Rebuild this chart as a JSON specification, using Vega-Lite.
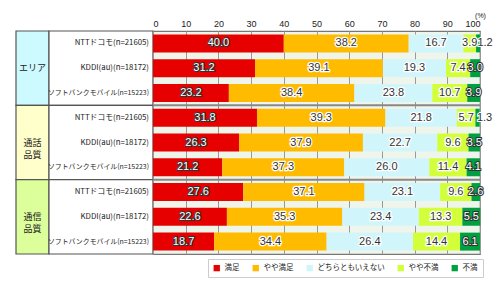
{
 "$schema": "https://vega.github.io/schema/vega-lite/v6.json",
 "padding": {"left": 15, "top": 10, "right": 0, "bottom": 0},
 "background": "white",
 "spacing": 0,
 "bounds": "flush",
 "config": {"font": "Noto Sans CJK JP", "view": {"stroke": null},
   "axisX": {"orient": "top", "values": [0, 10, 20, 30, 40, 50, 60, 70, 80, 90, 100], "labelOverlap": false, "labelFontSize": 9, "labelFont": "Liberation Sans", "labelColor": "#222", "ticks": false, "domain": false, "labelPadding": 3, "grid": true, "gridColor": "#999", "gridWidth": 1, "titleFontSize": 7, "titleFont": "Liberation Sans", "titleFontWeight": "normal", "titleColor": "#222", "titleX": 327, "titleY": -14, "titleAlign": "center", "titleBaseline": "alphabetic"}},
 "datasets": {
  "groups": [
   {"g": "g1", "label": "エリア"},
   {"g": "g2", "label": "通話\n品質"},
   {"g": "g3", "label": "通信\n品質"}
  ],
  "rows": [
   {"row": "r1", "carrier": "NTTドコモ", "label": "NTTドコモ(n=21605)"},
   {"row": "r2", "carrier": "KDDI", "label": "KDDI(au)(n=18172)"},
   {"row": "r3", "carrier": "ソフトバンクモバイル", "label": "ソフトバンクモバイル(n=15223)"},
   {"row": "r4", "carrier": "NTTドコモ", "label": "NTTドコモ(n=21605)"},
   {"row": "r5", "carrier": "KDDI", "label": "KDDI(au)(n=18172)"},
   {"row": "r6", "carrier": "ソフトバンクモバイル", "label": "ソフトバンクモバイル(n=15223)"},
   {"row": "r7", "carrier": "NTTドコモ", "label": "NTTドコモ(n=21605)"},
   {"row": "r8", "carrier": "KDDI", "label": "KDDI(au)(n=18172)"},
   {"row": "r9", "carrier": "ソフトバンクモバイル", "label": "ソフトバンクモバイル(n=15223)"}
  ],
  "bars": [
   {"row": "r1", "cat": "満足", "k": 1, "value": 40.0},
   {"row": "r1", "cat": "やや満足", "k": 2, "value": 38.2},
   {"row": "r1", "cat": "どちらともいえない", "k": 3, "value": 16.7},
   {"row": "r1", "cat": "やや不満", "k": 4, "value": 3.9},
   {"row": "r1", "cat": "不満", "k": 5, "value": 1.2},
   {"row": "r2", "cat": "満足", "k": 1, "value": 31.2},
   {"row": "r2", "cat": "やや満足", "k": 2, "value": 39.1},
   {"row": "r2", "cat": "どちらともいえない", "k": 3, "value": 19.3},
   {"row": "r2", "cat": "やや不満", "k": 4, "value": 7.4},
   {"row": "r2", "cat": "不満", "k": 5, "value": 3.0},
   {"row": "r3", "cat": "満足", "k": 1, "value": 23.2},
   {"row": "r3", "cat": "やや満足", "k": 2, "value": 38.4},
   {"row": "r3", "cat": "どちらともいえない", "k": 3, "value": 23.8},
   {"row": "r3", "cat": "やや不満", "k": 4, "value": 10.7},
   {"row": "r3", "cat": "不満", "k": 5, "value": 3.9},
   {"row": "r4", "cat": "満足", "k": 1, "value": 31.8},
   {"row": "r4", "cat": "やや満足", "k": 2, "value": 39.3},
   {"row": "r4", "cat": "どちらともいえない", "k": 3, "value": 21.8},
   {"row": "r4", "cat": "やや不満", "k": 4, "value": 5.7},
   {"row": "r4", "cat": "不満", "k": 5, "value": 1.3},
   {"row": "r5", "cat": "満足", "k": 1, "value": 26.3},
   {"row": "r5", "cat": "やや満足", "k": 2, "value": 37.9},
   {"row": "r5", "cat": "どちらともいえない", "k": 3, "value": 22.7},
   {"row": "r5", "cat": "やや不満", "k": 4, "value": 9.6},
   {"row": "r5", "cat": "不満", "k": 5, "value": 3.5},
   {"row": "r6", "cat": "満足", "k": 1, "value": 21.2},
   {"row": "r6", "cat": "やや満足", "k": 2, "value": 37.3},
   {"row": "r6", "cat": "どちらともいえない", "k": 3, "value": 26.0},
   {"row": "r6", "cat": "やや不満", "k": 4, "value": 11.4},
   {"row": "r6", "cat": "不満", "k": 5, "value": 4.1},
   {"row": "r7", "cat": "満足", "k": 1, "value": 27.6},
   {"row": "r7", "cat": "やや満足", "k": 2, "value": 37.1},
   {"row": "r7", "cat": "どちらともいえない", "k": 3, "value": 23.1},
   {"row": "r7", "cat": "やや不満", "k": 4, "value": 9.6},
   {"row": "r7", "cat": "不満", "k": 5, "value": 2.6},
   {"row": "r8", "cat": "満足", "k": 1, "value": 22.6},
   {"row": "r8", "cat": "やや満足", "k": 2, "value": 35.3},
   {"row": "r8", "cat": "どちらともいえない", "k": 3, "value": 23.4},
   {"row": "r8", "cat": "やや不満", "k": 4, "value": 13.3},
   {"row": "r8", "cat": "不満", "k": 5, "value": 5.5},
   {"row": "r9", "cat": "満足", "k": 1, "value": 18.7},
   {"row": "r9", "cat": "やや満足", "k": 2, "value": 34.4},
   {"row": "r9", "cat": "どちらともいえない", "k": 3, "value": 26.4},
   {"row": "r9", "cat": "やや不満", "k": 4, "value": 14.4},
   {"row": "r9", "cat": "不満", "k": 5, "value": 6.1}
  ]
 },
 "resolve": {"scale": {"y": "independent", "x": "independent"}},
 "hconcat": [
  {
   "width": 33, "height": 223,
   "data": {"name": "groups"},
   "layer": [
    {"mark": {"type": "rect", "stroke": "#555", "strokeWidth": 1.2},
     "encoding": {
      "y": {"field": "g", "type": "nominal", "axis": null, "scale": {"paddingInner": 0, "paddingOuter": 0}},
      "x": {"value": 0}, "x2": {"value": "width"},
      "fill": {"field": "g", "type": "nominal", "legend": null, "scale": {"domain": ["g1", "g2", "g3"], "range": ["#ccfafe", "#ffffcc", "#dcff9c"]}}
     }},
    {"mark": {"type": "text", "lineBreak": "\n", "fontSize": 9, "lineHeight": 12, "color": "#222"},
     "encoding": {
      "y": {"field": "g", "type": "nominal", "axis": null},
      "text": {"field": "label"}
     }}
   ]
  },
  {
   "width": 104, "height": 223,
   "layer": [
    {"data": {"name": "groups"},
     "mark": {"type": "rect", "fill": "white", "stroke": "#555", "strokeWidth": 1.2},
     "encoding": {
      "y": {"field": "g", "type": "nominal", "axis": null, "scale": {"paddingInner": 0, "paddingOuter": 0}},
      "x": {"value": 0}, "x2": {"value": "width"}
     }},
    {"data": {"name": "rows"},
     "mark": {"type": "text", "align": "right", "dx": -4, "color": "#222"},
     "encoding": {
      "y": {"field": "row", "type": "nominal", "axis": null},
      "x": {"value": "width"},
      "text": {"field": "label"},
      "size": {"condition": {"test": "datum.carrier === 'ソフトバンクモバイル'", "value": 6.9}, "value": 7.8}
     }}
   ],
   "resolve": {"scale": {"y": "independent"}}
  },
  {
   "width": 327, "height": 223,
   "view": {"fill": "#f0f5ec", "stroke": "#777", "strokeWidth": 1.2},
   "layer": [
    {"data": {"name": "bars"},
     "mark": {"type": "bar"},
     "encoding": {
      "y": {"field": "row", "type": "nominal", "axis": null, "scale": {"paddingInner": 0.274, "paddingOuter": 0.137}},
      "x": {"field": "value", "type": "quantitative", "stack": "zero", "title": "(%)",
            "scale": {"domain": [0, 100], "nice": false}},
      "order": {"field": "k", "type": "quantitative"},
      "color": {"field": "cat", "type": "nominal",
                "scale": {"domain": ["満足", "やや満足", "どちらともいえない", "やや不満", "不満"], "range": ["#e60000", "#ffbb00", "#d0f6fc", "#d2ff3a", "#00a040"]},
                "legend": {"orient": "none", "legendX": 192, "legendY": 228, "direction": "horizontal", "title": null, "labelFontSize": 7.5, "labelColor": "#222", "symbolType": "square", "symbolSize": 40, "symbolStrokeWidth": 0, "columnPadding": 12, "padding": 5, "strokeColor": "#ccc", "fillColor": "white"}}
     }},
    {"data": {"name": "bars"},
     "mark": {"type": "text", "fontSize": 11, "font": "Liberation Sans"},
     "encoding": {
      "y": {"field": "row", "type": "nominal", "axis": null},
      "x": {"field": "value", "type": "quantitative", "stack": "zero", "bandPosition": 0.5, "title": "(%)"},
      "order": {"field": "k", "type": "quantitative"},
      "fill": {"condition": {"test": "datum.cat === '満足' || datum.cat === '不満'", "value": "#333"}, "value": "white"},
      "stroke": {"condition": {"test": "datum.cat === '満足' || datum.cat === '不満'", "value": "#333"}, "value": "white"},
      "strokeWidth": {"condition": {"test": "datum.cat === '満足' || datum.cat === '不満'", "value": 2}, "value": 2.5},
      "text": {"condition": {"test": "datum.value < 2", "value": ""}, "field": "value", "type": "quantitative", "format": ".1f"}
     }},
    {"data": {"name": "bars"},
     "mark": {"type": "text", "fontSize": 11, "font": "Liberation Sans"},
     "encoding": {
      "y": {"field": "row", "type": "nominal", "axis": null},
      "x": {"field": "value", "type": "quantitative", "stack": "zero", "bandPosition": 0.5, "title": "(%)"},
      "order": {"field": "k", "type": "quantitative"},
      "fill": {"condition": {"test": "datum.cat === '満足' || datum.cat === '不満'", "value": "white"}, "value": "#333"},
      "text": {"condition": {"test": "datum.value < 2", "value": ""}, "field": "value", "type": "quantitative", "format": ".1f"}
     }},
    {"data": {"name": "bars"},
     "mark": {"type": "text", "fontSize": 11, "font": "Liberation Sans", "dx": 7, "fill": "#333", "stroke": "white", "strokeWidth": 2},
     "encoding": {
      "y": {"field": "row", "type": "nominal", "axis": null},
      "x": {"field": "value", "type": "quantitative", "stack": "zero", "bandPosition": 0.5, "title": "(%)"},
      "order": {"field": "k", "type": "quantitative"},
      "text": {"condition": {"test": "datum.value < 2", "field": "value", "type": "quantitative", "format": ".1f"}, "value": ""}
     }},
    {"data": {"name": "bars"},
     "mark": {"type": "text", "fontSize": 11, "font": "Liberation Sans", "dx": 7, "fill": "#333"},
     "encoding": {
      "y": {"field": "row", "type": "nominal", "axis": null},
      "x": {"field": "value", "type": "quantitative", "stack": "zero", "bandPosition": 0.5, "title": "(%)"},
      "order": {"field": "k", "type": "quantitative"},
      "text": {"condition": {"test": "datum.value < 2", "field": "value", "type": "quantitative", "format": ".1f"}, "value": ""}
     }},
    {"data": {"name": "groups"},
     "transform": [{"filter": "datum.g !== 'g1'"}],
     "mark": {"type": "rule", "color": "#888", "strokeWidth": 2},
     "encoding": {
      "y": {"field": "g", "type": "nominal", "axis": null, "bandPosition": 0, "scale": {"domain": ["g1", "g2", "g3"], "paddingInner": 0, "paddingOuter": 0}}
     }}
   ],
   "resolve": {"scale": {"y": "independent"}}
  }
 ]
}
